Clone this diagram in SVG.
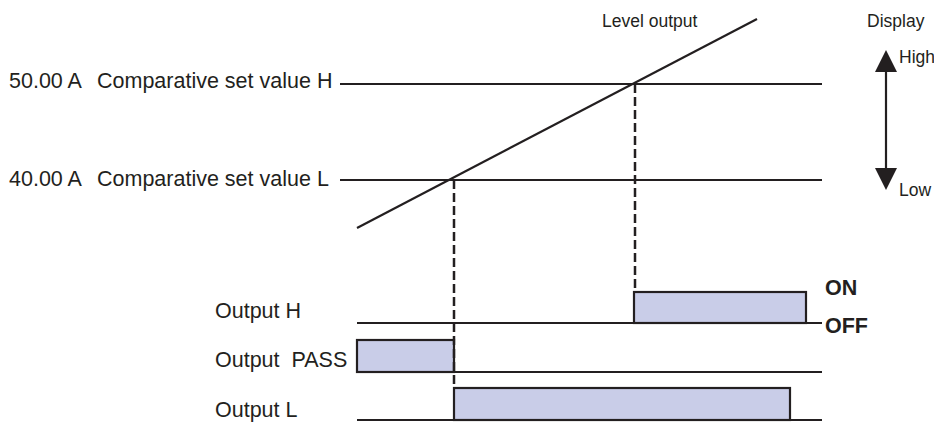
<svg xmlns="http://www.w3.org/2000/svg" width="934" height="424" viewBox="0 0 934 424">
<style>
.t{font-family:"Liberation Sans",Arial,sans-serif;fill:#231f20;}
.big{font-size:21.5px;}
.sm{font-size:17.5px;}
.b{font-size:21.5px;font-weight:bold;}
.ln{stroke:#231f20;stroke-width:2.2;fill:none;}
.dash{stroke:#231f20;stroke-width:2.5;fill:none;stroke-dasharray:9 4;}
.box{fill:#c9cde8;stroke:#231f20;stroke-width:2.2;}
</style>
<defs>
<marker id="ah" viewBox="0 0 22 22" refX="2" refY="11" markerWidth="22" markerHeight="22" markerUnits="userSpaceOnUse" orient="auto-start-reverse">
<path d="M0,0 L22,11 L0,22 Z" fill="#231f20"/>
</marker>
</defs>
<rect width="934" height="424" fill="#fff"/>
<g id="labels">
<text class="t big" x="9" y="88">50.00 A</text>
<text class="t big" x="97" y="88">Comparative set value H</text>
<text class="t big" x="9" y="186">40.00 A</text>
<text class="t big" x="97" y="186">Comparative set value L</text>
<text class="t sm" x="602" y="27">Level output</text>
<text class="t sm" x="867" y="27">Display</text>
<text class="t sm" x="899" y="63">High</text>
<text class="t sm" x="899" y="196">Low</text>
</g>
<g id="setH"><line class="ln" x1="340" y1="84" x2="822" y2="84"/></g>
<g id="setL"><line class="ln" x1="340" y1="180" x2="822" y2="180"/></g>
<g id="level"><line class="ln" x1="357" y1="228" x2="757" y2="19"/></g>
<g id="display-arrow"><line class="ln" x1="886" y1="70" x2="886" y2="170" marker-start="url(#ah)" marker-end="url(#ah)"/></g>
<g id="outputH">
<text class="t big" x="215" y="318">Output H</text>
<rect class="box" x="634" y="292" width="172" height="31"/>
<line class="ln" x1="357" y1="323" x2="822" y2="323"/>
<text class="t b" x="825" y="295">ON</text>
<text class="t b" x="825" y="333">OFF</text>
</g>
<g id="outputPASS">
<text class="t big" x="215" y="367" xml:space="preserve" style="white-space:pre">Output  PASS</text>
<rect class="box" x="357" y="340" width="97" height="32"/>
<line class="ln" x1="357" y1="372" x2="822" y2="372"/>
</g>
<g id="outputL">
<text class="t big" x="215" y="417">Output L</text>
<rect class="box" x="454" y="388" width="336" height="32"/>
<line class="ln" x1="357" y1="420" x2="822" y2="420"/>
</g>
<g id="connectors">
<line class="dash" x1="454" y1="180" x2="454" y2="388"/>
<line class="dash" x1="635" y1="84" x2="635" y2="292"/>
</g>
</svg>
